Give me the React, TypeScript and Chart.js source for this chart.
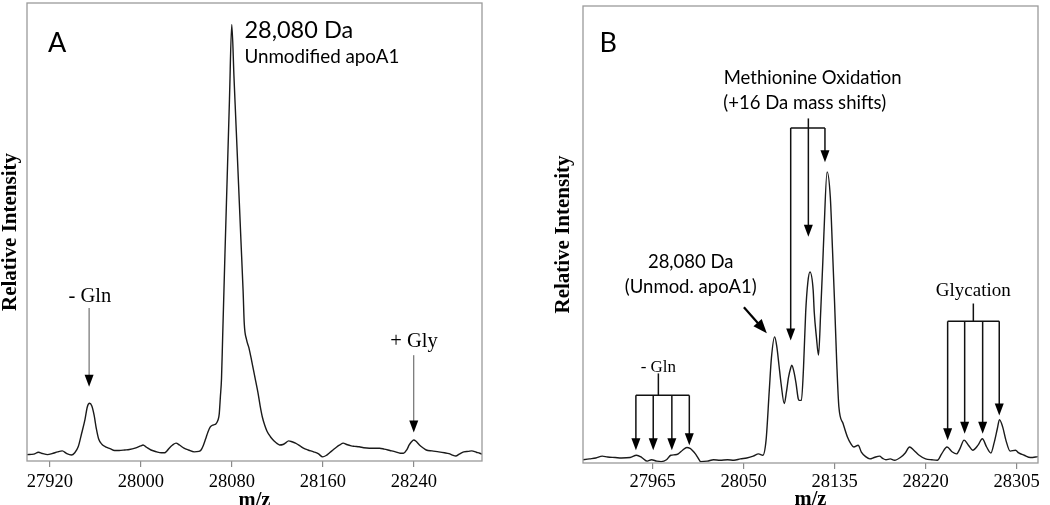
import React, { useEffect, useRef } from "react";
import { Chart, registerables } from "chart.js";
Chart.register(...registerables);

// ---------------- Panel A data ----------------
const A_MZ = [
  27900, 27906, 27910, 27914, 27918, 27922, 27927, 27931, 27935, 27939,
  27942, 27945, 27948, 27951, 27953, 27955, 27957, 27959, 27961, 27963,
  27966, 27969, 27973, 27977, 27981, 27986, 27990, 27995, 28000, 28002,
  28005, 28009, 28014, 28018, 28021, 28023, 28025, 28028, 28031, 28034,
  28038, 28042, 28047, 28051, 28053, 28055, 28057, 28059, 28061, 28064,
  28066, 28068, 28069, 28070, 28071, 28072, 28074, 28076, 28078, 28080,
  28082, 28084, 28086, 28088, 28090, 28091, 28093, 28095, 28097, 28099,
  28101, 28103, 28105, 28107, 28109, 28111, 28114, 28116, 28118, 28120,
  28122, 28125, 28127, 28130, 28133, 28136, 28140, 28143, 28147, 28152,
  28156, 28160, 28163, 28166, 28169, 28172, 28175, 28178, 28181, 28185,
  28188, 28192, 28196, 28201, 28206, 28210, 28214, 28219, 28224, 28228,
  28231, 28234, 28236, 28238, 28240, 28242, 28245, 28248, 28251, 28256,
  28262, 28267, 28271, 28274, 28277, 28280, 28284, 28288, 28291, 28295,
  28298, 28300,
];
const A_INT = [
  1.4, 1.5, 1.9, 1.6, 1.4, 1.6, 2.0, 2.2, 1.6, 1.3,
  1.8, 3.1, 6.0, 9.1, 11.8, 12.6, 12.0, 10.0, 7.0, 4.8,
  3.6, 3.1, 2.7, 2.3, 2.3, 2.4, 2.5, 2.8, 3.3, 3.5,
  3.0, 2.4, 2.0, 1.8, 1.8, 2.2, 2.8, 3.5, 3.9, 3.5,
  2.8, 2.4, 2.0, 2.1, 2.4, 3.4, 4.8, 6.3, 7.4, 7.9,
  8.1, 9.0, 10.3, 14, 18, 27, 45, 62, 79, 95.3,
  83.6, 72, 60.3, 48.6, 37, 30, 26.5, 24.8, 22.5, 20,
  17.5, 15, 12, 9.5, 7.8, 6.5, 5.3, 4.7, 4.2, 3.8,
  3.5, 3.6, 3.9, 4.4, 4.2, 3.9, 3.3, 2.8, 2.4, 2.0,
  1.6, 0.9, 1.2, 1.8, 2.4, 3.0, 3.5, 3.9, 3.6, 3.3,
  3.2, 3.1, 2.9, 2.8, 2.8, 2.8, 2.6, 2.3, 2.0, 1.7,
  1.7, 2.5, 3.5, 4.2, 4.6, 4.3, 3.5, 2.9, 2.4, 2.2,
  2.0, 1.8, 1.6, 1.3, 1.1, 1.5, 2.0, 2.1, 2.2, 1.9,
  1.7, 1.5,
];
const A_TICKS = [27920, 28000, 28080, 28160, 28240];
const A_RANGE = [27900, 28300];

// ---------------- Panel B data ----------------
const B_MZ = [
  27900, 27906, 27912, 27918, 27923, 27930, 27936, 27944, 27950, 27955,
  27960, 27964, 27969, 27973, 27978, 27982, 27986, 27989, 27993, 27997,
  28000, 28002, 28005, 28007, 28010, 28016, 28022, 28028, 28035, 28041,
  28047, 28053, 28059, 28064, 28068, 28071, 28074, 28076, 28079, 28081,
  28083, 28085, 28088, 28090, 28092, 28094, 28095, 28097, 28099, 28101,
  28102, 28104, 28106, 28108, 28110, 28112, 28115, 28116, 28118, 28120,
  28122, 28124, 28125, 28128, 28131, 28133, 28135, 28137, 28139, 28143,
  28147, 28150, 28153, 28157, 28160, 28164, 28168, 28172, 28177, 28180,
  28183, 28187, 28191, 28197, 28201, 28205, 28209, 28214, 28220, 28226,
  28231, 28235, 28240, 28245, 28249, 28252, 28256, 28260, 28264, 28269,
  28273, 28277, 28281, 28284, 28287, 28289, 28292, 28295, 28299, 28304,
  28307, 28312, 28318, 28325,
];
const B_INT = [
  0.7, 0.9, 1.1, 1.5, 1.3, 1.2, 1.1, 1.2, 1.7, 1.2,
  0.4, 0.7, 0.4, 0.3, 0.7, 1.7, 1.8, 2.0, 2.8, 3.4,
  3.2, 2.8, 2.0, 1.3, 0.3, 0.4, 0.7, 0.6, 0.7, 0.6,
  0.9, 1.1, 1.5, 2.0, 1.7, 5.0, 15.9, 23.0, 27.6, 25.5,
  21.5, 17.4, 13.0, 15.5, 18.8, 20.8, 21.4, 20.0, 17.4, 14.1,
  13.7, 13.7, 21.0, 33.0, 39.5, 41.8, 37.8, 33.0, 27.6, 23.6,
  33.0, 44.0, 50.0, 63.7, 58.2, 47.0, 35.0, 22.0, 12.3, 8.6,
  5.7, 4.3, 3.5, 3.9, 2.4, 1.4, 0.9, 1.2, 1.5, 1.0,
  0.7, 0.9, 0.6, 1.3, 2.2, 3.5, 2.8, 1.7, 0.9, 0.7,
  0.6, 2.0, 3.5, 2.4, 2.0, 3.1, 5.0, 3.9, 2.8, 3.9,
  5.3, 3.5, 2.2, 4.4, 7.5, 9.5, 7.9, 5.0, 2.6, 2.8,
  2.2, 1.7, 1.2, 1.4,
];
const B_TICKS = [27965, 28050, 28135, 28220, 28305];
const B_RANGE = [27900, 28325];

// ---------------- Annotations (data coordinates: m/z, relative intensity) ----------------
const A_NOTES = [
  { text: "A", mz: 27926.6, rel: 91.3, kind: "panel" },
  { text: "28,080 Da", mz: 28091.1, rel: 94.1, kind: "bigLeft" },
  { text: "Unmodified apoA1", mz: 28091.1, rel: 88.3, kind: "smallLeft" },
  { text: "- Gln", mz: 27955.3, rel: 36.0, kind: "serif" },
  { text: "+ Gly", mz: 28240.3, rel: 26.0, kind: "serif" },
];
const A_ARROWS = [
  { from: [27954.6, 33.4], to: [27954.6, 16.2] },
  { from: [28240, 23.1], to: [28240, 6.2] },
];
const A_LINES: number[][][] = [];

const B_NOTES = [
  { text: "B", mz: 27923.6, rel: 91.8, kind: "panel" },
  { text: "Methionine Oxidation", mz: 28114.5, rel: 84.2, kind: "sansMid" },
  { text: "(+16 Da mass shifts)", mz: 28107.1, rel: 78.7, kind: "sansMid" },
  { text: "28,080 Da", mz: 28000.6, rel: 44.0, kind: "sansMid" },
  { text: "(Unmod. apoA1)", mz: 28000.6, rel: 38.5, kind: "sansMid" },
  { text: "Glycation", mz: 28264.6, rel: 37.6, kind: "serifMid" },
  { text: "- Gln", mz: 27970.4, rel: 20.8, kind: "serifSmall" },
];
const B_ARROWS = [
  { from: [28050.3, 34.1], to: [28071.7, 28.4], heavy: true },
  { from: [28110.5, 75.4], to: [28110.5, 49.5] },
  { from: [28094, 73.3], to: [28094, 26.8] },
  { from: [28126, 73.3], to: [28126, 65.8] },
  { from: [28240.6, 31.0], to: [28240.6, 5.0] },
  { from: [28256.5, 31.0], to: [28256.5, 6.4] },
  { from: [28273.3, 31.0], to: [28273.3, 6.4] },
  { from: [28288.8, 31.0], to: [28288.8, 10.4] },
  { from: [27949.4, 14.8], to: [27949.4, 2.8] },
  { from: [27965.6, 14.8], to: [27965.6, 2.8] },
  { from: [27983.0, 14.8], to: [27983.0, 2.8] },
  { from: [27999.3, 14.8], to: [27999.3, 3.9] },
];
const B_LINES = [
  [[28094, 73.3], [28126, 73.3]],
  [[28264.6, 34.9], [28264.6, 31.0]],
  [[28240.6, 31.0], [28288.8, 31.0]],
  [[27970.4, 19.6], [27970.4, 14.8]],
  [[27949.4, 14.8], [27999.3, 14.8]],
];

// ---------------- Styles ----------------
const SERIF = "'Liberation Serif', 'Times New Roman', serif";
const SANS = "Lato, 'Open Sans', sans-serif";
const TEXT_STYLES: Record<string, { font: string; align: CanvasTextAlign }> = {
  panel: { font: `27px ${SANS}`, align: "center" },
  bigLeft: { font: `23.5px ${SANS}`, align: "left" },
  smallLeft: { font: `18.8px ${SANS}`, align: "left" },
  sansMid: { font: `18.5px ${SANS}`, align: "center" },
  serif: { font: `20.5px ${SERIF}`, align: "center" },
  serifMid: { font: `19px ${SERIF}`, align: "center" },
  serifSmall: { font: `17px ${SERIF}`, align: "center" },
};

type PanelCfg = {
  mz: number[];
  int: number[];
  ticks: number[];
  range: number[];
  notes: { text: string; mz: number; rel: number; kind: string }[];
  arrows: { from: number[]; to: number[]; heavy?: boolean }[];
  lines: number[][][];
  pad: { top: number; right: number };
  yAxisWidth: number;
  yTitlePad: number;
  xAxisHeight: number;
  tickPad: number;
  titleShift: number;
  arrowColor: string;
  arrowWidth: number;
};

function makeAnnotPlugin(p: PanelCfg) {
  return {
    id: "annot",
    afterDatasetsDraw(chart: any) {
      const { ctx, chartArea: ca, scales } = chart;
      const X = (v: number) => scales.x.getPixelForValue(v);
      const Y = (v: number) => scales.y.getPixelForValue(v);
      ctx.save();
      // frame
      ctx.strokeStyle = "#9a9a9a";
      ctx.lineWidth = 1.3;
      ctx.strokeRect(ca.left, ca.top, ca.right - ca.left, ca.bottom - ca.top);
      // connector lines
      ctx.strokeStyle = p.arrowColor;
      ctx.lineWidth = p.arrowWidth;
      for (const seg of p.lines) {
        ctx.beginPath();
        ctx.moveTo(X(seg[0][0]), Y(seg[0][1]));
        for (let i = 1; i < seg.length; i++) ctx.lineTo(X(seg[i][0]), Y(seg[i][1]));
        ctx.stroke();
      }
      // arrows
      for (const a of p.arrows) {
        const x1 = X(a.from[0]), y1 = Y(a.from[1]);
        const x2 = X(a.to[0]), y2 = Y(a.to[1]);
        const headL = a.heavy ? 14 : 12;
        const headW = a.heavy ? 11 : 9;
        const dx = x2 - x1, dy = y2 - y1;
        const len = Math.hypot(dx, dy) || 1;
        const ux = dx / len, uy = dy / len;
        const bx = x2 - ux * headL, by = y2 - uy * headL;
        ctx.strokeStyle = a.heavy ? "#000" : p.arrowColor;
        ctx.lineWidth = a.heavy ? 2.2 : p.arrowWidth;
        ctx.beginPath();
        ctx.moveTo(x1, y1);
        ctx.lineTo(bx + ux * 1, by + uy * 1);
        ctx.stroke();
        ctx.fillStyle = "#000";
        ctx.beginPath();
        ctx.moveTo(x2, y2);
        ctx.lineTo(bx - uy * headW / 2, by + ux * headW / 2);
        ctx.lineTo(bx + uy * headW / 2, by - ux * headW / 2);
        ctx.closePath();
        ctx.fill();
      }
      // texts
      ctx.fillStyle = "#000";
      ctx.textBaseline = "middle";
      for (const n of p.notes) {
        const st = TEXT_STYLES[n.kind];
        ctx.font = st.font;
        ctx.textAlign = st.align;
        ctx.fillText(n.text, X(n.mz), Y(n.rel));
      }
      ctx.restore();
    },
  };
}

function makeConfig(p: PanelCfg): any {
  return {
    type: "line",
    data: {
      datasets: [
        {
          data: p.mz.map((m, i) => ({ x: m, y: p.int[i] })),
          borderColor: "#1a1a1a",
          borderWidth: 1.4,
          pointRadius: 0,
          fill: false,
          cubicInterpolationMode: "monotone",
        },
      ],
    },
    options: {
      animation: false,
      responsive: true,
      maintainAspectRatio: false,
      layout: { padding: { top: p.pad.top, right: p.pad.right, left: 0, bottom: 0 } },
      plugins: { legend: { display: false }, tooltip: { enabled: false } },
      events: [],
      scales: {
        x: {
          type: "linear",
          min: p.range[0],
          max: p.range[1],
          afterBuildTicks: (s: any) => {
            s.ticks = p.ticks.map((v) => ({ value: v }));
          },
          afterFit: (s: any) => {
            s.height = p.xAxisHeight;
          },
          ticks: {
            autoSkip: false,
            maxRotation: 0,
            minRotation: 0,
            padding: p.tickPad,
            color: "#000",
            font: { family: SERIF, size: 18.5, lineHeight: 1 },
            callback: (v: any) => String(v),
          },
          grid: {
            display: true,
            drawOnChartArea: false,
            drawTicks: true,
            tickLength: 6,
            color: "#8a8a8a",
            lineWidth: 1.2,
          },
          border: { display: false },
          title: {
            display: true,
            text: "m/z",
            color: "#000",
            font: { family: SERIF, size: 20.5, weight: "bold", lineHeight: 1 },
            padding: { top: 0, bottom: p.titleShift },
          },
        },
        y: {
          type: "linear",
          min: 0,
          max: 100,
          afterFit: (s: any) => {
            s.width = p.yAxisWidth;
          },
          ticks: { display: false },
          grid: { display: false },
          border: { display: false },
          title: {
            display: true,
            text: "Relative Intensity",
            color: "#000",
            font: { family: SERIF, size: 21, weight: "bold", lineHeight: 1 },
            padding: { top: p.yTitlePad, bottom: 0 },
          },
        },
      },
    },
    plugins: [makeAnnotPlugin(p)],
  };
}

const PANEL_A: PanelCfg = {
  mz: A_MZ,
  int: A_INT,
  ticks: A_TICKS,
  range: A_RANGE,
  notes: A_NOTES,
  arrows: A_ARROWS,
  lines: A_LINES,
  pad: { top: 3, right: 38 },
  yAxisWidth: 27,
  yTitlePad: 0,
  xAxisHeight: 44,
  tickPad: 6,
  titleShift: -6,
  arrowColor: "#555",
  arrowWidth: 1,
};

const PANEL_B: PanelCfg = {
  mz: B_MZ,
  int: B_INT,
  ticks: B_TICKS,
  range: B_RANGE,
  notes: B_NOTES,
  arrows: B_ARROWS,
  lines: B_LINES,
  pad: { top: 6, right: 12 },
  yAxisWidth: 63,
  yTitlePad: 33,
  xAxisHeight: 42,
  tickPad: 4,
  titleShift: -5,
  arrowColor: "#111",
  arrowWidth: 1.5,
};

export default function App() {
  const refA = useRef<HTMLCanvasElement>(null);
  const refB = useRef<HTMLCanvasElement>(null);
  useEffect(() => {
    const a = new Chart(refA.current as HTMLCanvasElement, makeConfig(PANEL_A));
    const b = new Chart(refB.current as HTMLCanvasElement, makeConfig(PANEL_B));
    return () => {
      a.destroy();
      b.destroy();
    };
  }, []);
  return (
    <div style={{ position: "absolute", left: 0, top: 0, width: 1050, height: 505, background: "#fff" }}>
      <div style={{ position: "absolute", left: 0, top: 0, width: 520, height: 505 }}>
        <canvas ref={refA} />
      </div>
      <div style={{ position: "absolute", left: 520, top: 0, width: 530, height: 505 }}>
        <canvas ref={refB} />
      </div>
    </div>
  );
}
